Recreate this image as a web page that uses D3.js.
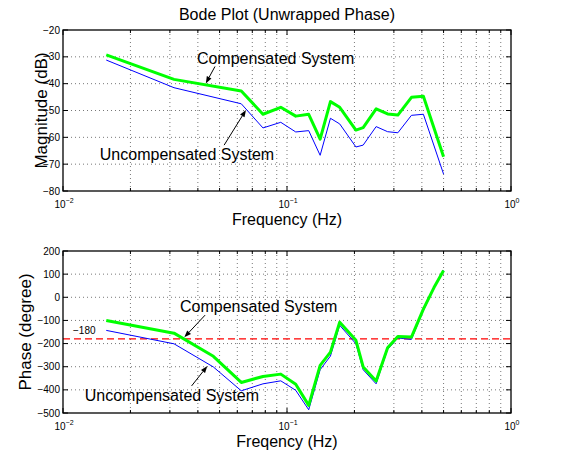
<!DOCTYPE html>
<html lang="en">
<head>
<meta charset="UTF-8">
<title>Bode Plot</title>
<script src="https://d3js.org/d3.v7.min.js"></script>
<style>
  body { margin: 0; background: #fff; }
  text { font-family: "Liberation Sans", Arial, Helvetica, sans-serif; fill: #000; }
</style>
</head>
<body>
<div id="chart"></div>
<script>
// magnitude samples
var freqMag = [0.0156, 0.0313, 0.0625, 0.0781, 0.0938, 0.1094, 0.125, 0.1406, 0.1563, 0.1719,
               0.2031, 0.2188, 0.25, 0.2813, 0.3125, 0.3594, 0.4063, 0.5];
var magComp = [-29.3, -38.4, -42.7, -51.4, -48.8, -52.1, -51.4, -60.7, -46.7, -48.8,
               -57.3, -56.4, -49.4, -51.3, -51.7, -45.1, -44.7, -67.2];
var magUncomp = [-31.2, -41.5, -47.5, -56.5, -54.4, -58.0, -57.5, -66.7, -52.9, -55.0,
                 -63.6, -62.9, -56.0, -57.9, -58.3, -51.8, -51.4, -73.7];

// phase samples
var freqPhase = [0.0156, 0.0313, 0.0469, 0.0625, 0.0781, 0.0938, 0.1094, 0.125, 0.1406, 0.1563,
                 0.1719, 0.2031, 0.2188, 0.25, 0.2813, 0.3125, 0.3594, 0.4063, 0.4531, 0.5];
var phaseComp = [-100, -155, -255, -368, -342, -332, -376, -467, -294, -237,
                 -108, -186, -301, -362, -218, -169, -172, -51, 42, 116];
var phaseUncomp = [-143, -201, -301, -404, -374, -361, -402, -486, -313, -254,
                   -121, -201, -313, -374, -225, -176, -182, -57, 39, 116];

var freqTicks = [0.01, 0.1, 1];
var freqTickExp = ["\u22122", "\u22121", "0"];
var magTicks = [-80, -70, -60, -50, -40, -30, -20];
var phaseTicks = [-500, -400, -300, -200, -100, 0, 100, 200];
var refPhase = -180;

var W = 567, H = 453;
var left = 63, right = 511;

var svg = d3.select("#chart").append("svg")
    .attr("width", W).attr("height", H)
    .style("display", "block")
    .style("background", "#fff");

function arrow(g, x, y, from, to) {
    var x1 = x(from[0]), y1 = y(from[1]), x2 = x(to[0]), y2 = y(to[1]);
    var a = Math.atan2(y2 - y1, x2 - x1), len = 7, hw = 2.6;
    var bx = x2 - len * Math.cos(a), by = y2 - len * Math.sin(a);
    g.append("line")
        .attr("x1", x1).attr("y1", y1).attr("x2", bx).attr("y2", by)
        .attr("stroke", "#000").attr("stroke-width", 1);
    g.append("path")
        .attr("d", "M" + x2 + "," + y2 +
            "L" + (bx + hw * Math.sin(a)) + "," + (by - hw * Math.cos(a)) +
            "L" + (bx - hw * Math.sin(a)) + "," + (by + hw * Math.cos(a)) + "Z")
        .attr("fill", "#000");
}

function panel(cfg) {
    var x = d3.scaleLog().domain([0.01, 1]).range([left, right]);
    var y = d3.scaleLinear().domain(cfg.yDomain).range([cfg.bottom, cfg.top]);
    var g = svg.append("g");

    // log grid values (major + minor)
    var minor = [];
    freqTicks.slice(0, -1).forEach(function (d) {
        for (var m = 2; m <= 9; m++) minor.push(m * d);
    });
    var gridX = freqTicks.concat(minor).filter(function (v) { return v > 0.0101 && v < 0.99; });

    g.selectAll(".vgrid").data(gridX).join("line")
        .attr("x1", function (d) { return x(d); }).attr("x2", function (d) { return x(d); })
        .attr("y1", cfg.top).attr("y2", cfg.bottom)
        .attr("stroke", "#555").attr("stroke-width", 0.8)
        .attr("stroke-dasharray", "1,3");

    g.selectAll(".hgrid").data(cfg.yTicks.slice(1, -1)).join("line")
        .attr("x1", left).attr("x2", right)
        .attr("y1", function (d) { return y(d); }).attr("y2", function (d) { return y(d); })
        .attr("stroke", "#555").attr("stroke-width", 0.8)
        .attr("stroke-dasharray", "1,3");

    // tick marks, inward on all sides
    var ticksX = g.append("g");
    freqTicks.concat(minor).forEach(function (d) {
        var major = freqTicks.indexOf(d) >= 0, l = major ? 5 : 3;
        [[cfg.bottom, -l], [cfg.top, l]].forEach(function (p) {
            ticksX.append("line")
                .attr("x1", x(d)).attr("x2", x(d))
                .attr("y1", p[0]).attr("y2", p[0] + p[1])
                .attr("stroke", "#000").attr("stroke-width", 1);
        });
    });
    cfg.yTicks.forEach(function (d) {
        [[left, 5], [right, -5]].forEach(function (p) {
            g.append("line")
                .attr("x1", p[0]).attr("x2", p[0] + p[1])
                .attr("y1", y(d)).attr("y2", y(d))
                .attr("stroke", "#000").attr("stroke-width", 1);
        });
    });

    // tick labels
    g.selectAll(".ylab").data(cfg.yTicks).join("text")
        .attr("x", left - 3).attr("y", function (d) { return y(d); })
        .attr("dy", "0.35em")
        .attr("text-anchor", "end")
        .attr("font-size", 10)
        .text(function (d) { return d < 0 ? "\u2212" + (-d) : d; });

    freqTicks.forEach(function (d, i) {
        var t = g.append("text")
            .attr("x", x(d) + 1).attr("y", cfg.bottom + 17)
            .attr("text-anchor", "middle")
            .attr("font-size", 10);
        t.append("tspan").text("10");
        t.append("tspan").attr("font-size", 7).attr("dy", -5).text(freqTickExp[i]);
    });

    // axis labels
    g.append("text")
        .attr("x", (left + right) / 2).attr("y", cfg.bottom + 21)
        .attr("dy", "0.8em")
        .attr("text-anchor", "middle")
        .attr("font-size", 16)
        .text(cfg.xLabel);
    g.append("text")
        .attr("transform", "translate(" + cfg.yLabelX + "," + (cfg.top + cfg.bottom) / 2 + ") rotate(-90)")
        .attr("dy", "0.35em")
        .attr("text-anchor", "middle")
        .attr("font-size", 17)
        .text(cfg.yLabel);

    if (cfg.ref != null) {
        g.append("line")
            .attr("x1", left).attr("x2", right)
            .attr("y1", y(cfg.ref)).attr("y2", y(cfg.ref))
            .attr("stroke", "#ff0000").attr("stroke-width", 1.2)
            .attr("stroke-dasharray", "7,4");
        g.append("text")
            .attr("x", left + 10).attr("y", y(cfg.ref) - 5)
            .attr("font-size", 10)
            .text("\u2212" + (-cfg.ref));
    }

    var line = d3.line()
        .x(function (d) { return x(d[0]); })
        .y(function (d) { return y(d[1]); });

    g.append("path")
        .datum(d3.zip(cfg.freq, cfg.uncomp))
        .attr("fill", "none").attr("stroke", "#0000ff").attr("stroke-width", 1)
        .attr("stroke-linejoin", "round")
        .attr("d", line);
    g.append("path")
        .datum(d3.zip(cfg.freq, cfg.comp))
        .attr("fill", "none").attr("stroke", "#00ff00").attr("stroke-width", 3)
        .attr("stroke-linejoin", "round")
        .attr("d", line);

    // annotations
    cfg.notes.forEach(function (n) {
        g.append("text")
            .attr("x", x(n.at[0])).attr("y", y(n.at[1]))
            .attr("dy", "0.35em")
            .attr("font-size", 16)
            .text(n.text);
        arrow(g, x, y, n.from, n.to);
    });

    // box
    g.append("rect")
        .attr("x", left).attr("y", cfg.top)
        .attr("width", right - left).attr("height", cfg.bottom - cfg.top)
        .attr("fill", "none").attr("stroke", "#000").attr("stroke-width", 1.3);
}

svg.append("text")
    .attr("x", (left + right) / 2).attr("y", 14)
    .attr("dy", "0.35em")
    .attr("text-anchor", "middle")
    .attr("font-size", 16)
    .text("Bode Plot (Unwrapped Phase)");

panel({
    top: 30, bottom: 191,
    yDomain: [-80, -20], yTicks: magTicks,
    freq: freqMag, comp: magComp, uncomp: magUncomp,
    xLabel: "Frequency (Hz)", yLabel: "Magnitude (dB)", yLabelX: 41,
    notes: [
        { text: "Compensated System", at: [0.0396, -30.4], from: [0.0477, -33.6], to: [0.0434, -39.9] },
        { text: "Uncompensated System", at: [0.0146, -66.2], from: [0.0524, -62.9], to: [0.0656, -49.8] }
    ]
});

panel({
    top: 251, bottom: 413,
    yDomain: [-500, 200], yTicks: phaseTicks, ref: refPhase,
    freq: freqPhase, comp: phaseComp, uncomp: phaseUncomp,
    xLabel: "Freqency (Hz)", yLabel: "Phase (degree)", yLabelX: 25,
    notes: [
        { text: "Compensated System", at: [0.0333, -38], from: [0.0431, -77], to: [0.0348, -173] },
        { text: "Uncompensated System", at: [0.0125, -425], from: [0.0375, -383], to: [0.0441, -297] }
    ]
});
</script>
</body>
</html>
